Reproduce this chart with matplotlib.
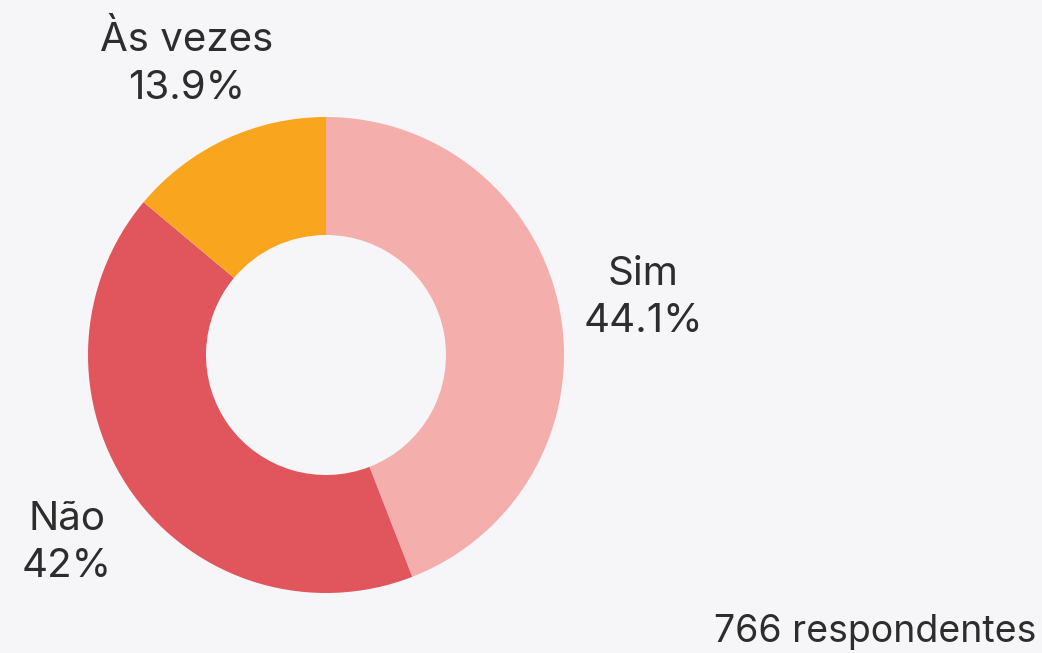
import matplotlib
matplotlib.use("Agg")
import matplotlib.pyplot as plt

# Data
labels = ["Sim", "Não", "Às vezes"]
shares = [44.1, 42.0, 13.9]
pct_text = ["44.1%", "42%", "13.9%"]
colors = ["#f4afad", "#e0565c", "#f9a61e"]
total_note = "766 respondentes"

W, H = 1042, 653
bg = "#f6f6f8"
txt = "#2d2d2d"

plt.rcParams['font.family'] = ['Inter', 'DejaVu Sans']

fig = plt.figure(figsize=(W / 100, H / 100), dpi=100, facecolor=bg)
ax = fig.add_axes([0, 0, 1, 1])
ax.set_facecolor(bg)

cx, cy = 326, H - 355
r_out, r_in = 238, 120

ax.pie(shares, colors=colors, startangle=90, counterclock=False,
       center=(cx, cy), radius=r_out,
       wedgeprops=dict(width=r_out - r_in, edgecolor="none"))

ax.set_xlim(0, W)
ax.set_ylim(0, H)
ax.set_aspect("equal")
ax.axis("off")

# label positions (pixel coords, top-left origin)
label_pos = [(643, 298), (67, 543), (187, 64)]
for name, pct, (x, y) in zip(labels, pct_text, label_pos):
    ax.text(x, H - y, name + "\n" + pct, ha="center", va="center",
            fontsize=29, color=txt, linespacing=1.35)

ax.text(1036, H - 632, total_note, ha="right", va="center",
        fontsize=27, color=txt)

fig.savefig("out.png", dpi=100, facecolor=bg)
